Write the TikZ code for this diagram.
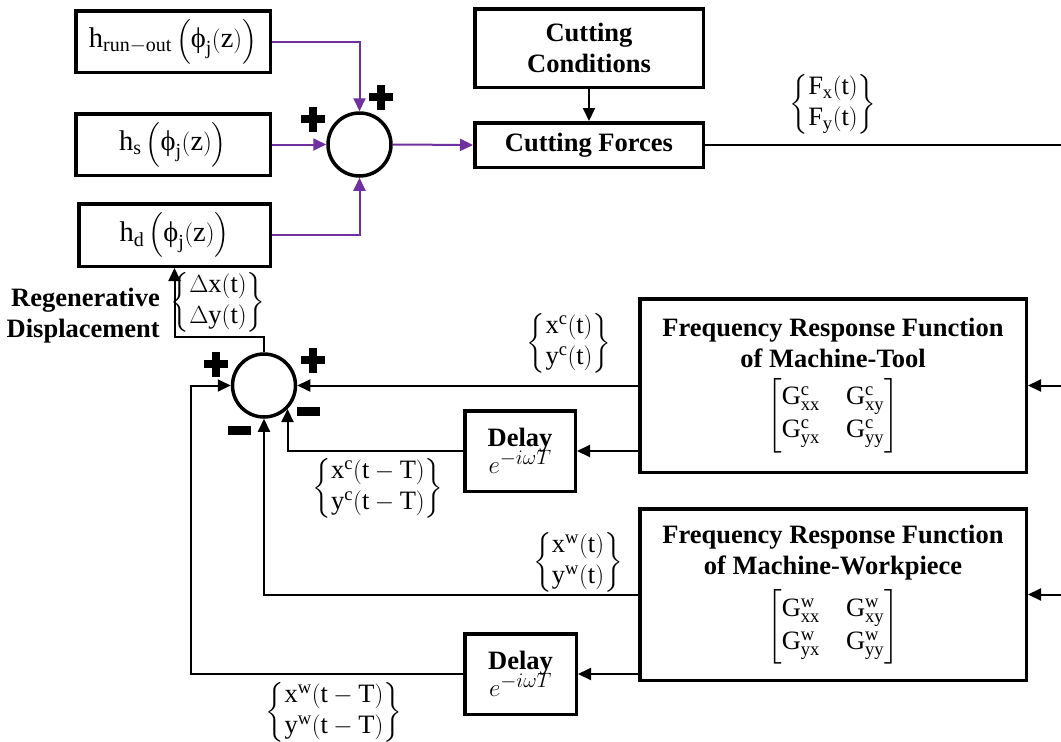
\documentclass[tikz,border=0pt]{standalone}
\usepackage{fontspec}
\usepackage{amsmath}
\setmainfont{Liberation Serif}
\usetikzlibrary{arrows.meta}
\definecolor{sumpurple}{RGB}{112,48,160}
\begin{document}
\begin{tikzpicture}[x=1pt,y=-1pt,
  every node/.style={font=\fontsize{26.5}{31}\selectfont},
  box/.style={draw,line width=3.5pt,inner sep=0pt,align=center},
  hbox/.style={box,font=\fontsize{28.5}{33}\selectfont},
  boldtxt/.style={font=\fontsize{26.5}{31}\selectfont\bfseries},
  wire/.style={line width=2pt},
  conn/.style={line width=2pt,-{Triangle[length=13pt,width=12pt]}},
  pconn/.style={conn,draw=sumpurple,color=sumpurple},
  sumnode/.style={draw,circle,line width=3.5pt,inner sep=0pt,minimum size=63pt},
  lbl/.style={inner sep=0pt,align=left},
  plussign/.pic={\fill (-12,-3.8) rectangle (12,3.8); \fill (-3.8,-12.5) rectangle (3.8,12.5);},
  minussign/.pic={\fill (-11.5,-4.5) rectangle (11.5,4.5);}
]
\useasboundingbox (0,0) rectangle (1061,742);

% input boxes
\node[hbox,minimum width=194.5pt,minimum height=61.5pt] (hro) at (173,41.5)
  {$\mathrm{h_{run-out}}\,\Big(\text{ϕ}_{\mathrm{j}}\mathrm{(z)}\Big)$};
\node[hbox,minimum width=194.5pt,minimum height=61.5pt] (hs) at (173,144.5)
  {$\mathrm{h_{s}}\,\Big(\text{ϕ}_{\mathrm{j}}\mathrm{(z)}\Big)$};
\node[hbox,minimum width=191.5pt,minimum height=62.5pt] (hd) at (174.5,235)
  {$\mathrm{h_{d}}\,\Big(\text{ϕ}_{\mathrm{j}}\mathrm{(z)}\Big)$};

\node[sumnode] (sum1) at (359.5,144.5) {};

\node[box,boldtxt,minimum width=228.5pt,minimum height=78.5pt] (cc) at (589,48) {Cutting\\Conditions};
\node[box,boldtxt,minimum width=228.5pt,minimum height=44.5pt] (cf) at (589,145) {Cutting Forces};

% FRF boxes
\node[box,minimum width=386.5pt,minimum height=173.5pt] (frft) at (833,385.5)
  {\textbf{Frequency Response Function}\\\textbf{of Machine-Tool}\\[9pt]
   $\left[\begin{array}{@{}l@{\hspace{26pt}}l@{}}\mathrm{G^{c}_{xx}}&\mathrm{G^{c}_{xy}}\\[2pt]\mathrm{G^{c}_{yx}}&\mathrm{G^{c}_{yy}}\end{array}\right]$};
\node[box,minimum width=386.5pt,minimum height=171.5pt] (frfw) at (833,594.5)
  {\textbf{Frequency Response Function}\\\textbf{of Machine-Workpiece}\\[9pt]
   $\left[\begin{array}{@{}l@{\hspace{26pt}}l@{}}\mathrm{G^{w}_{xx}}&\mathrm{G^{w}_{xy}}\\[2pt]\mathrm{G^{w}_{yx}}&\mathrm{G^{w}_{yy}}\end{array}\right]$};

% delays
\node[box,minimum width=110.5pt,minimum height=80.5pt] (d1) at (520,451)
  {\textbf{Delay}\\[-4pt]{\fontsize{30}{34}\selectfont$e^{-i\omega T}$}};
\node[box,minimum width=111.5pt,minimum height=80.5pt] (d2) at (520.5,674)
  {\textbf{Delay}\\[-4pt]{\fontsize{30}{34}\selectfont$e^{-i\omega T}$}};

\node[sumnode] (sum2) at (264,385.5) {};

% free ends
\coordinate (r1) at (1061,145);
\coordinate (r2) at (1061,385.5);
\coordinate (r3) at (1061,594.5);
\coordinate (fb) at (191,0);
\coordinate (rg) at (174.5,337);

% purple connectors
\draw[pconn] (hro.east) -| (sum1.north);
\draw[pconn] (hs.east) -- (sum1.west);
\draw[pconn] (hd.east) -| (sum1.south);
\draw[pconn] (sum1.east) -- (cf.west);

% black connectors
\draw[conn] (cc.south) -- (cf.north);
\draw[wire] (cf.east) -- (r1);
\draw[conn] (r2) -- (frft.east);
\draw[conn] (r3) -- (frfw.east);
\draw[conn] (frft.west) -- (sum2.east);
\draw[conn] (frft.west |- d1.east) -- (d1.east);
\draw[conn] (d1.west) -| (sum2.south east);
\draw[conn] (frfw.west) -| (sum2.south);
\draw[conn] (frfw.west |- d2.east) -- (d2.east);
\draw[conn] (d2.west) -| (fb |- sum2.west) -- (sum2.west);
\draw[conn] (sum2.north) |- (rg) -- (hd.south);

% signs
\pic at (313,119) {plussign};
\pic at (381,97) {plussign};
\pic at (216,364) {plussign};
\pic at (313,360) {plussign};
\pic at (308,411) {minussign};
\pic at (239.5,430) {minussign};

% labels
\node[lbl] (fxy) at (833,104)
  {$\left\{\begin{array}{@{}l@{}}\mathrm{F_x(t)}\\\mathrm{F_y(t)}\end{array}\right\}$};
\node[lbl] (dxy) at (218,302)
  {$\left\{\begin{array}{@{}l@{}}\Delta\mathrm{x(t)}\\\Delta\mathrm{y(t)}\end{array}\right\}$};
\node[lbl,boldtxt,align=right,anchor=east] (regen) at (160,316) {Regenerative\\Displacement};
\node[lbl] (xc) at (569,343)
  {$\left\{\begin{array}{@{}l@{}}\mathrm{x^c(t)}\\\mathrm{y^c(t)}\end{array}\right\}$};
\node[lbl] (xcT) at (378,488)
  {$\left\{\begin{array}{@{}l@{}}\mathrm{x^c(t-T)}\\\mathrm{y^c(t-T)}\end{array}\right\}$};
\node[lbl] (xw) at (578,562)
  {$\left\{\begin{array}{@{}l@{}}\mathrm{x^w(t)}\\\mathrm{y^w(t)}\end{array}\right\}$};
\node[lbl] (xwT) at (334,712)
  {$\left\{\begin{array}{@{}l@{}}\mathrm{x^w(t-T)}\\\mathrm{y^w(t-T)}\end{array}\right\}$};
\end{tikzpicture}
\end{document}
